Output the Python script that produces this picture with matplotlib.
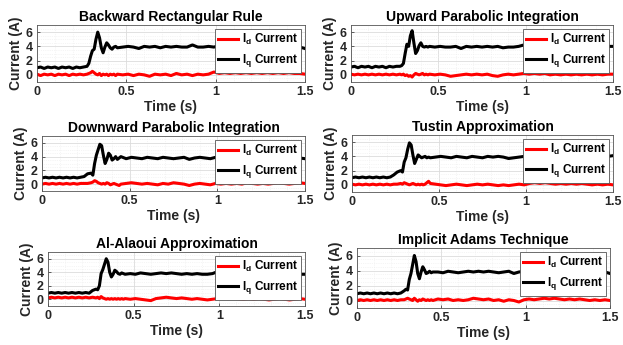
import matplotlib
matplotlib.use('Agg')
import matplotlib.pyplot as plt
import numpy as np

plt.rcParams['font.family'] = ['Liberation Sans', 'DejaVu Sans']
plt.rcParams['font.weight'] = 'bold'
plt.rcParams['mathtext.fontset'] = 'custom'
plt.rcParams['mathtext.rm'] = 'Liberation Sans:bold'
plt.rcParams['mathtext.bf'] = 'Liberation Sans:bold'
plt.rcParams['mathtext.it'] = 'Liberation Sans:bold'

# time base: coarse before the step, fine through the transient, coarse after
t = np.concatenate([np.arange(0, 0.27, 0.02),
                    np.arange(0.28, 0.455, 0.01),
                    np.arange(0.48, 1.505, 0.03)])

titles = ['Backward Rectangular Rule', 'Upward Parabolic Integration',
          'Downward Parabolic Integration', 'Tustin Approximation',
          'Al-Alaoui Approximation', 'Implicit Adams Technique']

iq_backward = [1.0, 1.1, 0.9, 1.1, 1.0, 1.1, 0.9, 1.1, 1.0, 1.1, 0.9, 1.1, 1.0, 1.1,
               1.2, 1.6, 2.6, 3.4, 3.6, 5.0, 6.0, 5.2, 3.8, 3.1, 3.9, 4.5, 4.2, 3.8, 3.6, 3.9, 4.0, 3.8,
               3.9, 4.0, 3.9, 3.7, 4.0, 3.9, 4.0, 3.8, 4.0, 3.9, 4.0, 3.9, 3.9, 4.2, 3.9, 3.9, 4.0, 3.9,
               4.1, 3.9, 3.8, 4.0, 4.1, 3.9, 4.0, 3.9, 4.0, 3.9, 3.9, 4.0, 3.9, 3.9, 3.8, 3.9, 3.7]
id_backward = [0.1, -0.1, 0.1, 0.0, 0.1, -0.1, 0.1, 0.0, 0.1, -0.1, 0.1, 0.0, 0.1, 0.0,
               0.1, 0.2, 0.3, 0.5, 0.3, 0.1, 0.0, 0.2, -0.1, 0.1, 0.0, 0.1, -0.1, 0.1, 0.0, 0.1, -0.1, 0.1,
               0.0, 0.1, -0.1, 0.1, 0.0, -0.2, 0.1, 0.0, 0.1, -0.1, 0.2, 0.0, 0.1, -0.1, 0.1, 0.0, 0.1, 0.4,
               0.2, 0.3, 0.2, 0.3, 0.2, 0.3, 0.2, 0.3, 0.2, 0.3, 0.2, 0.3, 0.2, 0.3, 0.2, 0.2, 0.1]

iq_upward = [1.1, 1.2, 1.0, 1.2, 1.1, 1.2, 1.0, 1.2, 1.1, 1.2, 1.0, 1.2, 1.1, 1.2,
             1.2, 1.3, 1.6, 3.0, 4.3, 4.0, 5.5, 6.2, 4.5, 3.0, 3.4, 4.1, 4.5, 4.0, 3.9, 4.0, 3.9, 4.0,
             3.9, 4.0, 3.9, 3.9, 4.0, 3.7, 4.0, 3.9, 4.0, 3.9, 4.0, 3.9, 4.0, 3.8, 3.9, 3.9, 4.0, 4.2,
             3.9, 4.0, 3.9, 4.0, 3.9, 4.0, 4.0, 3.9, 4.0, 3.9, 4.0, 3.9, 4.0, 3.9, 4.0, 4.0, 4.0]
id_upward = [0.1, 0.0, 0.1, 0.0, 0.1, 0.0, 0.1, 0.0, 0.1, 0.0, 0.1, 0.0, 0.1, 0.0,
             0.1, 0.0, 0.1, -0.1, 0.0, -0.2, -0.1, -0.3, 0.0, 0.2, 0.1, 0.0, 0.1, 0.2, 0.0, 0.1, 0.0, 0.1,
             0.0, 0.1, 0.0, -0.2, -0.1, 0.0, 0.1, 0.0, 0.1, 0.0, 0.1, -0.1, -0.2, 0.0, 0.1, 0.0, 0.1, 0.2,
             0.1, 0.2, 0.1, 0.2, 0.0, 0.1, 0.0, 0.1, 0.0, 0.1, 0.0, 0.1, 0.0, 0.1, 0.0, 0.1, 0.1]

iq_downward = [0.9, 1.0, 0.9, 1.0, 0.9, 1.0, 0.9, 1.0, 0.9, 1.0, 0.9, 1.0, 1.1, 1.5,
               1.6, 1.3, 3.0, 4.2, 5.0, 5.8, 5.6, 4.2, 3.0, 3.6, 4.5, 4.2, 3.5, 3.7, 4.0, 3.6, 3.8, 4.0,
               3.7, 3.9, 3.8, 3.7, 3.9, 3.8, 3.7, 3.9, 3.8, 3.7, 3.8, 3.9, 3.6, 3.8, 3.9, 3.8, 3.7, 3.9,
               3.8, 3.9, 3.8, 3.7, 3.9, 3.8, 3.7, 3.8, 3.9, 3.8, 3.7, 3.8, 3.9, 3.8, 3.7, 3.8, 3.7]
id_downward = [0.0, 0.1, 0.0, 0.1, 0.0, 0.1, 0.0, 0.1, 0.0, 0.1, 0.0, 0.1, 0.1, 0.1,
               0.2, 0.3, 0.5, 0.4, 0.2, 0.1, 0.0, 0.1, 0.0, 0.2, 0.1, -0.1, 0.0, 0.1, 0.0, -0.1, -0.2, 0.0,
               0.1, 0.2, 0.1, 0.0, 0.1, 0.0, -0.1, 0.1, 0.0, 0.2, 0.1, 0.0, -0.2, 0.0, 0.1, 0.0, -0.1, 0.1,
               0.0, 0.1, 0.0, 0.1, 0.0, 0.2, 0.1, 0.0, 0.1, 0.0, 0.1, 0.2, 0.1, 0.0, 0.1, 0.2, 0.1]

iq_tustin = [1.0, 1.1, 1.0, 1.1, 1.0, 1.1, 1.0, 1.1, 1.0, 1.1, 1.0, 1.1, 1.4, 1.8,
             2.0, 1.8, 3.2, 3.8, 5.0, 5.9, 5.6, 4.2, 3.0, 3.6, 4.2, 4.0, 3.8, 3.9, 4.0, 3.8, 3.9, 3.8,
             3.9, 4.0, 3.9, 3.8, 4.0, 3.9, 3.8, 4.0, 3.9, 3.8, 4.0, 3.9, 4.0, 3.9, 3.7, 3.8, 3.9, 4.0,
             3.9, 4.0, 3.9, 4.0, 3.9, 4.0, 3.9, 4.0, 3.9, 4.0, 3.9, 4.0, 3.9, 4.0, 3.9, 4.0, 4.1]
id_tustin = [0.1, 0.0, 0.1, 0.0, 0.1, 0.0, 0.1, 0.0, 0.1, 0.0, 0.1, 0.0, 0.1, 0.1,
             0.2, 0.1, 0.3, 0.2, 0.1, 0.0, 0.1, 0.2, 0.1, 0.0, 0.1, 0.0, 0.1, 0.0, 0.1, 0.3, 0.5, 0.2,
             0.1, 0.0, -0.1, 0.0, 0.1, 0.0, -0.1, 0.0, 0.1, 0.0, 0.1, 0.0, -0.1, 0.0, -0.1, 0.0, 0.1, 0.0,
             0.2, 0.3, 0.2, 0.3, 0.2, 0.1, 0.2, 0.1, 0.2, 0.1, 0.2, 0.1, 0.0, 0.1, 0.0, 0.1, 0.0]

iq_alaoui = [0.9, 1.0, 0.9, 1.0, 0.9, 1.0, 0.9, 1.0, 0.9, 1.0, 0.9, 1.0, 0.9, 1.3,
             1.5, 1.4, 2.0, 3.8, 4.4, 5.2, 6.0, 5.5, 4.0, 3.3, 3.7, 4.3, 4.1, 3.8, 3.7, 3.9, 3.8, 3.7,
             3.8, 3.7, 3.9, 3.8, 3.7, 3.8, 3.9, 3.8, 3.9, 3.8, 3.7, 3.8, 3.7, 3.8, 3.7, 3.7, 3.8, 4.1,
             3.8, 3.7, 3.8, 3.7, 3.8, 3.7, 3.8, 3.7, 3.8, 3.7, 3.8, 3.7, 3.8, 3.7, 3.8, 3.7, 3.7]
id_alaoui = [0.2, 0.3, 0.2, 0.3, 0.2, 0.3, 0.2, 0.3, 0.2, 0.3, 0.2, 0.3, 0.2, 0.3,
             0.2, 0.3, 0.1, 0.4, 0.2, 0.1, 0.0, 0.1, 0.0, 0.1, 0.0, 0.1, 0.0, 0.1, 0.0, 0.1, 0.0, 0.1,
             0.0, 0.1, 0.0, -0.1, -0.2, 0.1, 0.2, 0.3, 0.2, 0.1, 0.2, 0.1, 0.0, 0.1, 0.0, -0.1, 0.0, 0.1,
             0.2, 0.1, 0.2, 0.1, 0.0, 0.1, 0.0, 0.1, 0.0, -0.1, 0.0, 0.1, 0.0, -0.1, 0.0, 0.1, 0.0]

iq_adams = [0.9, 1.0, 0.9, 1.0, 0.9, 1.0, 0.9, 1.0, 0.9, 1.0, 0.9, 1.0, 0.9, 1.0,
            1.3, 1.5, 1.4, 2.8, 3.6, 4.8, 6.0, 5.2, 3.6, 2.9, 3.8, 4.5, 4.1, 3.6, 3.7, 3.9, 3.7, 3.8,
            3.8, 3.7, 3.9, 3.8, 3.7, 3.8, 3.9, 3.8, 3.9, 3.8, 3.9, 3.8, 3.7, 3.8, 3.9, 3.6, 3.8, 3.9,
            3.7, 3.8, 3.9, 3.8, 3.9, 3.8, 3.7, 3.8, 3.9, 3.8, 3.7, 3.8, 3.9, 3.8, 3.7, 3.8, 3.6]
id_adams = [0.0, 0.1, 0.0, 0.1, 0.0, 0.1, 0.0, 0.1, 0.0, 0.1, 0.0, 0.1, 0.0, 0.1,
            0.1, 0.2, 0.3, 0.2, 0.1, 0.0, 0.3, 0.1, -0.1, 0.1, 0.0, 0.2, 0.1, 0.0, 0.1, 0.0, 0.1, 0.0,
            0.2, 0.1, 0.2, 0.0, 0.1, 0.0, 0.1, 0.3, 0.2, 0.1, 0.2, 0.0, 0.1, -0.1, 0.1, 0.0, -0.2, 0.1,
            0.2, 0.1, 0.2, 0.3, 0.2, 0.3, 0.2, 0.1, 0.2, 0.1, 0.2, 0.1, 0.0, 0.1, 0.0, 0.1, 0.0]

iq_all = [iq_backward, iq_upward, iq_downward, iq_tustin, iq_alaoui, iq_adams]
id_all = [id_backward, id_upward, id_downward, id_tustin, id_alaoui, id_adams]

# axes boxes in pixels (x0, y0, x1, y1) measured from the top-left corner
W, H = 623, 345
boxes = [(37, 25, 305, 82), (351, 25, 613, 82),
         (42, 136, 305, 191), (352, 135, 613, 192),
         (48, 252, 305, 306), (357, 248, 610, 308)]

fig = plt.figure(figsize=(W / 100, H / 100), dpi=100)
txt = '#262626'

for k in range(6):
    x0, y0, x1, y1 = boxes[k]
    ax = fig.add_axes([x0 / W, (H - y1) / H, (x1 - x0) / W, (y1 - y0) / H])
    ax.plot(t, id_all[k], color='r', lw=2.2, label=r'$\mathbf{I_d}$ Current')
    ax.plot(t, iq_all[k], color='k', lw=2.2, label=r'$\mathbf{I_q}$ Current')
    ax.set_xlim(0, 1.5)
    ax.set_ylim(-1, 7)
    ax.set_xticks([0, 0.5, 1, 1.5])
    ax.set_xticklabels(['0', '0.5', '1', '1.5'])
    ax.set_yticks([0, 2, 4, 6])
    ax.set_xticks(np.arange(0, 1.51, 0.1), minor=True)
    ax.set_yticks(np.arange(-1, 7.1, 0.5), minor=True)
    ax.grid(True, which='major', color='#dcdcdc', lw=0.6)
    ax.grid(True, which='minor', color='#ececec', lw=0.5, ls=':')
    ax.tick_params(which='both', direction='in', length=2, width=0.5, colors=txt,
                   labelsize=9, pad=3)
    ax.tick_params(which='minor', length=0)
    for s in ax.spines.values():
        s.set_color('#555555')
        s.set_linewidth(0.6)
    for lab in ax.get_xticklabels() + ax.get_yticklabels():
        lab.set_fontweight('bold')
    ax.set_title(titles[k], fontsize=10, fontweight='bold', pad=3)
    ax.set_xlabel('Time (s)', fontsize=10, fontweight='bold', color=txt, labelpad=1)
    ax.set_ylabel('Current (A)', fontsize=10, fontweight='bold', color=txt, labelpad=2)
    leg = ax.legend(loc='upper right', fontsize=8.5, frameon=True, fancybox=False,
                    framealpha=1, edgecolor='#555555', borderaxespad=0.3,
                    handlelength=1.7, handletextpad=0.3, labelspacing=0.45,
                    borderpad=0.3)
    leg.get_frame().set_linewidth(0.6)
    for tx in leg.get_texts():
        tx.set_fontweight('bold')

fig.savefig('out.png', dpi=100)
